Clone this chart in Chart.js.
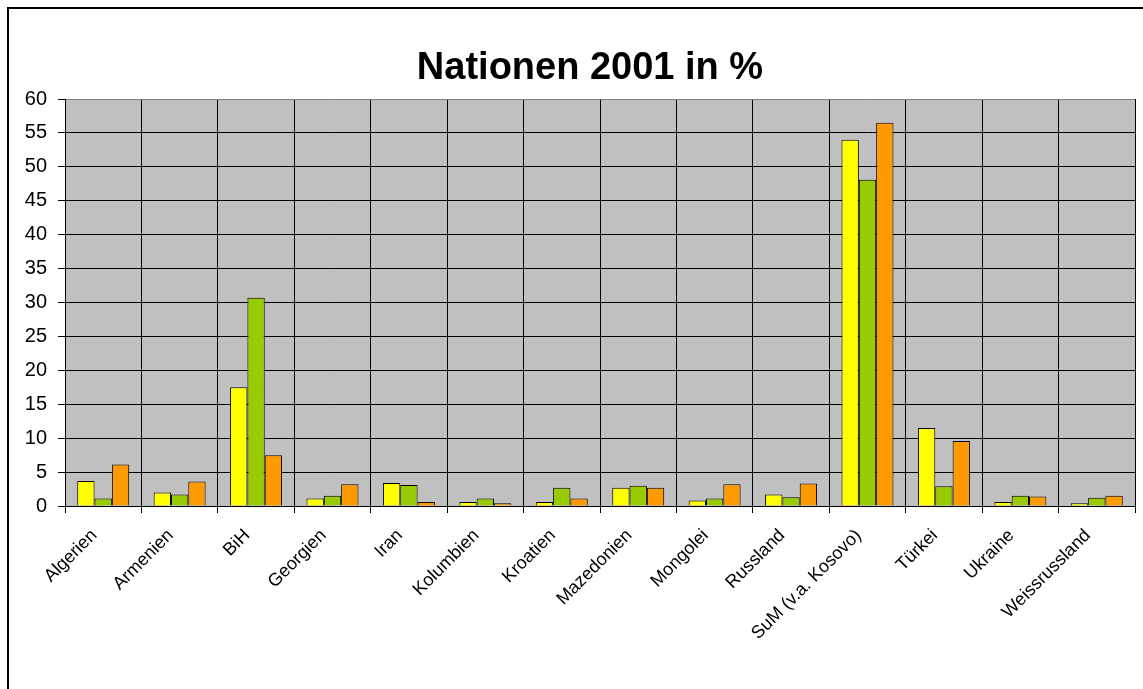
<!DOCTYPE html>
<html>
<head>
<meta charset="utf-8">
<script src="https://cdn.jsdelivr.net/npm/chart.js@4.4.0/dist/chart.umd.min.js"></script>
<style>
  html, body { margin: 0; padding: 0; background: #fff; overflow: hidden; }
  #wrap { position: relative; width: 1143px; height: 689px; }
  #frame { position: absolute; left: 7px; top: 7px; width: 1200px; height: 800px; border: 2px solid #000; box-sizing: border-box; }
  canvas { position: absolute; left: 0; top: 0; }
</style>
</head>
<body>
<div id="wrap">
  <div id="frame"></div>
  <canvas id="chart" width="1143" height="689"></canvas>
</div>
<script>
// Nationen 2001 in % - drei Reihen (gelb, grün, orange)
const chartTitle = "Nationen 2001 in %";
const categories = [
    "Algerien", "Armenien", "BiH", "Georgien", "Iran", "Kolumbien", "Kroatien",
    "Mazedonien", "Mongolei", "Russland", "SuM (v.a. Kosovo)", "Türkei", "Ukraine", "Weissrussland"
];
const serieGelb   = [3.7, 2.0, 17.5, 1.1, 3.4, 0.6, 0.6, 2.7, 0.8, 1.7, 54.0, 11.5, 0.6, 0.4];
const serieGruen  = [1.1, 1.7, 30.7, 1.5, 3.1, 1.1, 2.7, 3.0, 1.1, 1.3, 48.1, 2.9, 1.5, 1.2];
const serieOrange = [6.1, 3.6, 7.5, 3.2, 0.6, 0.4, 1.1, 2.7, 3.2, 3.3, 56.5, 9.6, 1.4, 1.5];
const yTicks = [0, 5, 10, 15, 20, 25, 30, 35, 40, 45, 50, 55, 60];

const FONT = "'Liberation Sans', Arial, sans-serif";

// Hintergrund der Zeichenfläche grau + Titel
const plotBg = {
    id: "plotBg",
    beforeDraw(chart) {
        const { ctx, chartArea: a } = chart;
        ctx.save();
        ctx.fillStyle = "#C0C0C0";
        ctx.fillRect(a.left, a.top, a.right - a.left, a.bottom - a.top);
        ctx.fillStyle = "#000";
        ctx.font = "bold 38px " + FONT;
        ctx.textAlign = "center";
        ctx.textBaseline = "alphabetic";
        ctx.fillText(chartTitle, 590, 78.5);
        ctx.restore();
    }
};

function mkSet(data, color) {
    return {
        data,
        backgroundColor: color,
        borderColor: "#000",
        borderWidth: 1,
        categoryPercentage: 0.68,
        barPercentage: 1.0
    };
}

new Chart(document.getElementById("chart").getContext("2d"), {
    type: "bar",
    data: {
        labels: categories,
        datasets: [
            mkSet(serieGelb, "#FFFF00"),
            mkSet(serieGruen, "#99CC00"),
            mkSet(serieOrange, "#FF9900")
        ]
    },
    options: {
        responsive: false,
        animation: false,
        layout: { padding: { left: 0, right: 8, top: 99, bottom: 0 } },
        plugins: {
            legend: { display: false },
            tooltip: { enabled: false },
            title: { display: false }
        },
        scales: {
            x: {
                grid: {
                    offset: true,
                    color: (c) => (c.index === categories.length ? "#808080" : "#000"),
                    tickColor: "#000",
                    tickLength: 7,
                    lineWidth: 1
                },
                border: { color: "#000", width: 1 },
                ticks: {
                    color: "#000",
                    font: { family: FONT, size: 18 },
                    minRotation: 45,
                    maxRotation: 45,
                    padding: 12,
                    labelOffset: -9,
                    autoSkip: false
                },
                afterFit(scale) { scale.height = 183; }
            },
            y: {
                min: 0,
                max: 60,
                afterBuildTicks(scale) { scale.ticks = yTicks.map((v) => ({ value: v })); },
                grid: {
                    color: (c) => (c.tick && c.tick.value === 60 ? "#808080" : "#000"),
                    tickColor: "#000",
                    tickLength: 7,
                    lineWidth: 1
                },
                border: { color: "#000", width: 1 },
                ticks: {
                    color: "#000",
                    font: { family: FONT, size: 20 },
                    padding: 11
                },
                afterFit(scale) { scale.width = 65; }
            }
        }
    },
    plugins: [plotBg]
});
</script>
</body>
</html>
